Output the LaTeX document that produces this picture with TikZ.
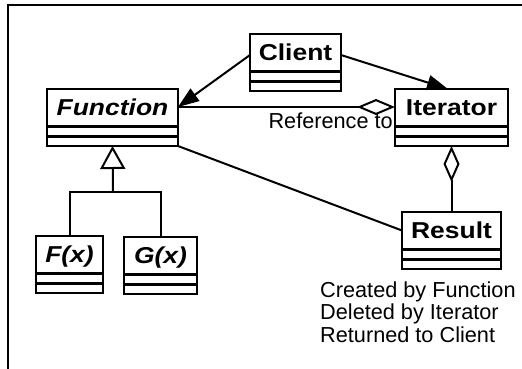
\documentclass[tikz,border=0pt]{standalone}
\usepackage{fontspec}
\usepackage{graphicx}
\setmainfont{Liberation Sans}
\usetikzlibrary{arrows.meta}
\tikzset{
  classbox/.style={draw, line width=2pt, rectangle, inner sep=0pt, outer sep=0pt, fill=white},
  boldname/.style={inner sep=0pt, font=\fontsize{23}{26}\selectfont\bfseries},
  italname/.style={inner sep=0pt, font=\fontsize{23}{26}\selectfont\bfseries\itshape},
  divider/.style={line width=2.5pt},
  conn/.style={line width=2pt},
  navarrow/.style={conn, -{Triangle[length=21pt,width=15pt]}},
  aggr/.style={conn, {Diamond[open,fill=white,length=#1,width=16pt]}-},
  inherit/.style={conn, -{Triangle[open,fill=white,length=23pt,width=25pt]}},
  notetext/.style={inner sep=0pt, font=\fontsize{21.7}{22.5}\selectfont, align=left},
  frameline/.style={line width=2pt}
}
\newcommand\umlclass[6]{%
  \node[classbox, minimum width=#4pt, minimum height=57pt, anchor=north] (#1) at (#2,#3) {};
  \node[#5, anchor=base] (#1-name) at (#2,#3+26.5) {\scalebox{1.15}[1]{#6}};
  \draw[divider] ([yshift=-37.5pt]#1.north west) -- ([yshift=-37.5pt]#1.north east);
  \draw[divider] ([yshift=-47.5pt]#1.north west) -- ([yshift=-47.5pt]#1.north east);
}
\begin{document}
\begin{tikzpicture}[x=1pt,y=-1pt]
  \useasboundingbox (0,0) rectangle (522,368);
  \fill[white] (0,0) rectangle (522,368);
  \draw[frameline] (8,372) -- (8,5) -- (526,5);

  \umlclass{client}{295.5}{34}{91}{boldname}{Client}
  \umlclass{function}{112.5}{89}{131}{italname}{Function}
  \umlclass{iterator}{451.5}{89}{113}{boldname}{Iterator}
  \umlclass{result}{451.5}{212}{99}{boldname}{Result}
  \umlclass{fx}{69.5}{236}{67}{italname}{F(x)}
  \umlclass{gx}{160.5}{237}{73}{italname}{G(x)}

  % navigations from Client
  \draw[navarrow] ([yshift=7.5pt]client.west) -- ([yshift=10.5pt]function.east);
  \draw[navarrow] ([yshift=7.5pt]client.east) -- ([xshift=-3.5pt]iterator.north);

  % aggregation Iterator -- Function
  \draw[aggr=38pt] ([yshift=10.5pt]iterator.west) -- ([yshift=10.5pt]function.east);
  \node[notetext, anchor=base east] (refto) at (393,128) {Reference to};

  % aggregation Iterator -- Result
  \draw[aggr=36pt] (iterator.south) -- (result.north);

  % association Function -- Result
  \draw[conn] (function.south east) -- ([yshift=10pt]result.west);

  % inheritance
  \coordinate (junc) at (113,192);
  \draw[inherit] (junc) -- (function.south);
  \draw[conn] (fx.north) |- (junc) -| (gx.north);

  % note
  \node[notetext, anchor=north west] (note) at (320,281.5)
    {Created by Function\\Deleted by Iterator\\Returned to Client};
\end{tikzpicture}
\end{document}
